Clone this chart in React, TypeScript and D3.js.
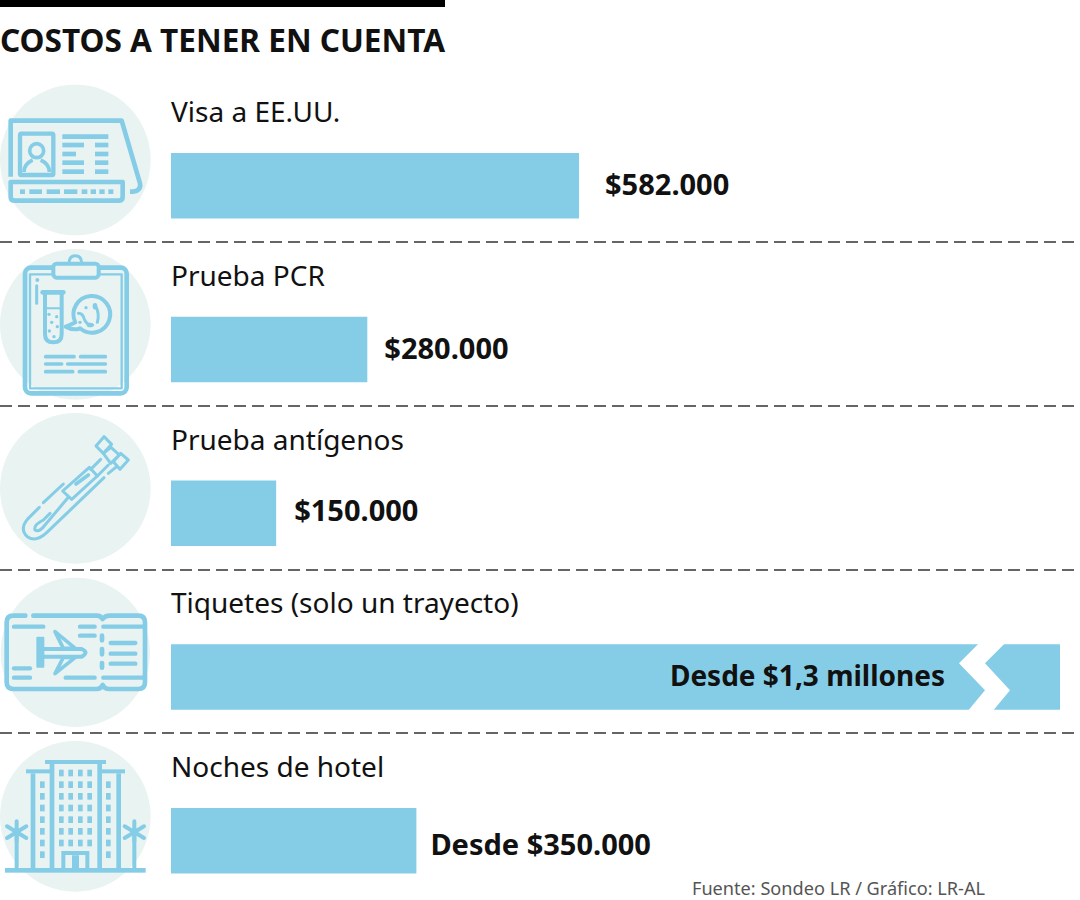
import React from "react";
import * as d3 from "d3";

const title = "COSTOS A TENER EN CUENTA";
const categories = ["Visa a EE.UU.", "Prueba PCR", "Prueba antígenos", "Tiquetes (solo un trayecto)", "Noches de hotel"];
const values = [582000, 280000, 150000, 1300000, 350000];
const valueLabels = ["$582.000", "$280.000", "$150.000", "Desde $1,3 millones", "Desde $350.000"];
const source = "Fuente: Sondeo LR / Gráfico: LR-AL";

const WIDTH = 1080;
const HEIGHT = 900;
const BLUE = "#85cde6";
const PALE = "#e8f3f2";
const INK = "#111111";
const FONT = "'Noto Sans', 'Open Sans', sans-serif";

// the long bar is cut by the zigzag, so the scale stops (clamped) where the bar stops
const AXIS_BREAK = 1268000;
const x = d3.scaleLinear().domain([0, AXIS_BREAK]).range([171, 1060]).clamp(true);
const rowY = d3.scalePoint<string>().domain(categories).range([153, 808]);
const BAR_H = 65.5;
const labelGap = [26, 17, 18, 0, 14];
const labelDy = [42, 42, 40, 42, 47];
const labelSize = [29, 29, 29, 28, 29];

// small helper, icons are drawn in a 480 box (3x the real size)
const Lines = ({ segs, w = 13 }: { segs: number[][]; w?: number }) => (
  <>
    {segs.map((s, i) => (
      <line key={i} x1={s[1]} x2={s[2]} y1={s[0]} y2={s[0]} stroke={BLUE} strokeWidth={w} strokeLinecap="round" />
    ))}
  </>
);

const VisaIcon = () => (
  <g fill="none" stroke={BLUE} strokeWidth={14}>
    <circle cx={226} cy={240} r={226} fill={PALE} stroke="none" />
    <path d="M32 290V122H365L420 310Q425 335 390 335" strokeLinejoin="round" />
    <path d="M32 306H368V350Q368 362 355 362H45Q32 362 32 350Z" strokeLinejoin="round" />
    <rect x={60} y={161} width={100} height={124} strokeWidth={13} rx={4} />
    <circle cx={110} cy={212} r={21} strokeWidth={11} />
    <path d="M72 276Q72 252 98 240M148 276Q148 252 122 240" strokeWidth={11} />
    {[[60, 15], [88, 38], [140, 40], [192, 40], [245, 17], [272, 16], [298, 16], [325, 15]].map((d, i) => (
      <rect key={i} x={d[0]} y={328} width={d[1]} height={14} fill={BLUE} stroke="none" />
    ))}
    <g strokeLinecap="butt">
      {[[170, 187, 325], [195, 187, 252], [195, 285, 325], [222, 187, 228], [222, 285, 325], [248, 187, 252], [248, 285, 325], [275, 187, 252], [275, 285, 325]].map((s, i) => (
        <line key={i} x1={s[1]} x2={s[2]} y1={s[0]} y2={s[0]} />
      ))}
    </g>
  </g>
);

const PcrIcon = () => (
  <g fill="none" stroke={BLUE} strokeWidth={12} strokeLinecap="round" strokeLinejoin="round">
    <circle cx={226} cy={238} r={226} fill={PALE} stroke="none" />
    <rect x={75} y={68} width={305} height={377} rx={18} strokeWidth={14} />
    <path d="M155 88H90V430H365V88H300" strokeWidth={7} />
    <path d="M207 55Q207 32 226 32Q245 32 245 55" strokeWidth={9} />
    <rect x={160} y={56} width={136} height={42} rx={10} fill={PALE} />
    <circle cx={112} cy={105} r={6} fill={BLUE} stroke="none" />
    <line x1={110} x2={110} y1={122} y2={175} strokeWidth={9} />
    <line x1={128} x2={190} y1={142} y2={142} strokeWidth={14} />
    <path d="M135 148V268Q135 292 160 292Q185 292 185 268V148" />
    <line x1={140} x2={180} y1={190} y2={190} strokeWidth={6} />
    {[[147, 208], [170, 215], [155, 232], [172, 245], [148, 258], [162, 275]].map((d, i) => (
      <circle key={i} cx={d[0]} cy={d[1]} r={5} fill={BLUE} stroke="none" />
    ))}
    <path d="M197 245Q212 240 226 232A55 55 0 1 1 240 250Q220 258 197 245Z" />
    <path d="M235 205Q248 205 252 220Q258 240 278 240" strokeWidth={9} />
    <ellipse cx={270} cy={240} rx={10} ry={7} fill={BLUE} stroke="none" />
    <path d="M285 180Q300 205 292 232" strokeWidth={9} />
    <ellipse cx={285} cy={184} rx={7} ry={10} fill={BLUE} stroke="none" />
    <circle cx={258} cy={188} r={5} fill={BLUE} stroke="none" />
    <circle cx={240} cy={232} r={5} fill={BLUE} stroke="none" />
    <Lines w={11} segs={[[335, 137, 222], [335, 242, 316], [357, 137, 185], [357, 203, 316], [380, 137, 218], [380, 238, 316]]} />
  </g>
);

const SwabIcon = () => (
  <g fill="none" stroke={BLUE} strokeWidth={9} strokeLinecap="round" strokeLinejoin="round">
    <circle cx={226} cy={235} r={226} fill={PALE} stroke="none" />
    <path d="M118 292L82 328Q58 358 82 380Q108 398 140 368L312 203" />
    <path d="M130 278L190 222" />
    <path d="M215 268L188 243L268 172L292 198Z" />
    <path d="M228 222L265 195" strokeWidth={11} />
    <path d="M150 310L130 330Q100 345 105 360Q118 368 135 345L205 262" />
    <path d="M272 178L302 148M292 198L325 165" />
    <path d="M288 108L312 80L335 103L310 130Z" />
    <path d="M310 130L333 112L358 135L332 160Z" />
    <path d="M340 155L362 130L385 150L360 178Z" />
    <path d="M325 190L350 170" />
  </g>
);

const TicketIcon = () => (
  <g fill="none" stroke={BLUE} strokeWidth={14} strokeLinecap="round" strokeLinejoin="round">
    <circle cx={226} cy={232} r={224} fill={PALE} stroke="none" />
    <path d="M76 122H40Q20 122 20 142V322Q20 342 40 342H290Q303 342 308 330Q313 342 328 342H415Q435 342 435 322V142Q435 122 415 122H330Q315 122 308 132Q302 122 290 122H100" />
    <Lines segs={[[155, 310, 430], [308, 310, 430], [155, 42, 130], [155, 240, 284], [182, 240, 284], [280, 42, 90], [308, 42, 90], [308, 197, 284], [204, 332, 406], [236, 332, 406], [266, 332, 406]]} />
    <path d="M306 182V196M306 222V238M306 264V278" />
    <path d="M112 188H130V275H112Z" fill={BLUE} strokeWidth={6} />
    <path d="M125 222H245Q268 232 245 245H125" strokeWidth={12} />
    <path d="M165 170L226 220H190Z" strokeWidth={11} />
    <path d="M165 296L226 247H190Z" strokeWidth={11} />
  </g>
);

const HotelIcon = () => {
  const centerCols = [177, 205, 234, 262];
  const rows = [95, 130, 165, 200, 235, 270, 305];
  const sideRows = [130, 165, 200, 235, 270, 305, 340];
  return (
    <g fill={BLUE}>
      <circle cx={226} cy={235} r={226} fill={PALE} />
      <rect x={15} y={390} width={422} height={14} />
      <rect x={135} y={66} width={183} height={12} />
      <rect x={78} y={94} width={72} height={12} />
      <rect x={305} y={94} width={70} height={12} />
      {[92, 149, 292, 349].map((c) => (
        <rect key={c} x={c} y={c === 149 || c === 292 ? 78 : 106} width={14} height={c === 149 || c === 292 ? 312 : 284} />
      ))}
      {centerCols.flatMap((c) => rows.map((r) => <rect key={c + "-" + r} x={c} y={r} width={14} height={20} />))}
      {[120, 318].flatMap((c) => sideRows.map((r) => <rect key={c + "-" + r} x={c} y={r} width={14} height={20} />))}
      <path d="M190 390V345H262V390M222 352V390M231 352V390" fill="none" stroke={BLUE} strokeWidth={12} />
      {[50, 403].map((c) => (
        <g key={c} stroke={BLUE} fill="none" strokeLinecap="round">
          <path d={`M${c} 290V390`} strokeWidth={12} />
          <path d={`M${c} 250V310M${c - 29} 265L${c + 29} 300M${c + 29} 265L${c - 29} 300`} strokeWidth={12} />
        </g>
      ))}
    </g>
  );
};

const icons = [VisaIcon, PcrIcon, SwabIcon, TicketIcon, HotelIcon];
const iconTop = [80, 245, 410, 575, 738];
const dividers = [242, 406, 570, 733];

export default function App() {
  return (
    <svg
      width={WIDTH}
      height={HEIGHT}
      style={{ position: "absolute", left: 0, top: 0, display: "block", background: "#fff" }}
      fontFamily={FONT}
    >
      <rect x={0} y={0} width={445} height={7} fill="#000" />
      <text x={0} y={52} fontSize={31.5} fontWeight={700} fill={INK} textLength={445} lengthAdjust="spacingAndGlyphs">
        {title}
      </text>

      {dividers.map((d) => (
        <line key={d} x1={0} x2={WIDTH} y1={d} y2={d} stroke="#333" strokeWidth={1.5} strokeDasharray="12 6" />
      ))}

      {categories.map((c, i) => {
        const Icon = icons[i];
        const y0 = rowY(c) as number;
        const end = x(values[i]);
        const broken = values[i] > AXIS_BREAK;
        return (
          <g key={c}>
            <g transform={`translate(0,${iconTop[i]}) scale(${1 / 3})`}>
              <Icon />
            </g>
            <text x={171} y={y0 - 31} fontSize={28} fill={INK}>
              {c}
            </text>
            <rect x={x(0)} y={y0} width={end - x(0)} height={BAR_H} fill={BLUE} />
            {broken ? (
              <>
                <path
                  d={`M${end - 81} ${y0 - 1}L${end - 101} ${y0 + 19}L${end - 75} ${y0 + 46}L${end - 92} ${y0 + BAR_H + 1}L${end - 67} ${y0 + BAR_H + 1}L${end - 50} ${y0 + 46}L${end - 75} ${y0 + 19}L${end - 55} ${y0 - 1}Z`}
                  fill="#fff"
                />
                <text x={945} y={y0 + labelDy[i]} fontSize={labelSize[i]} fontWeight={700} fill={INK} textAnchor="end">
                  {valueLabels[i]}
                </text>
              </>
            ) : (
              <text x={end + labelGap[i]} y={y0 + labelDy[i]} fontSize={labelSize[i]} fontWeight={700} fill={INK}>
                {valueLabels[i]}
              </text>
            )}
          </g>
        );
      })}

      <text x={692} y={895} fontSize={18} fill="#555" textLength={293} lengthAdjust="spacingAndGlyphs">
        {source}
      </text>
    </svg>
  );
}
